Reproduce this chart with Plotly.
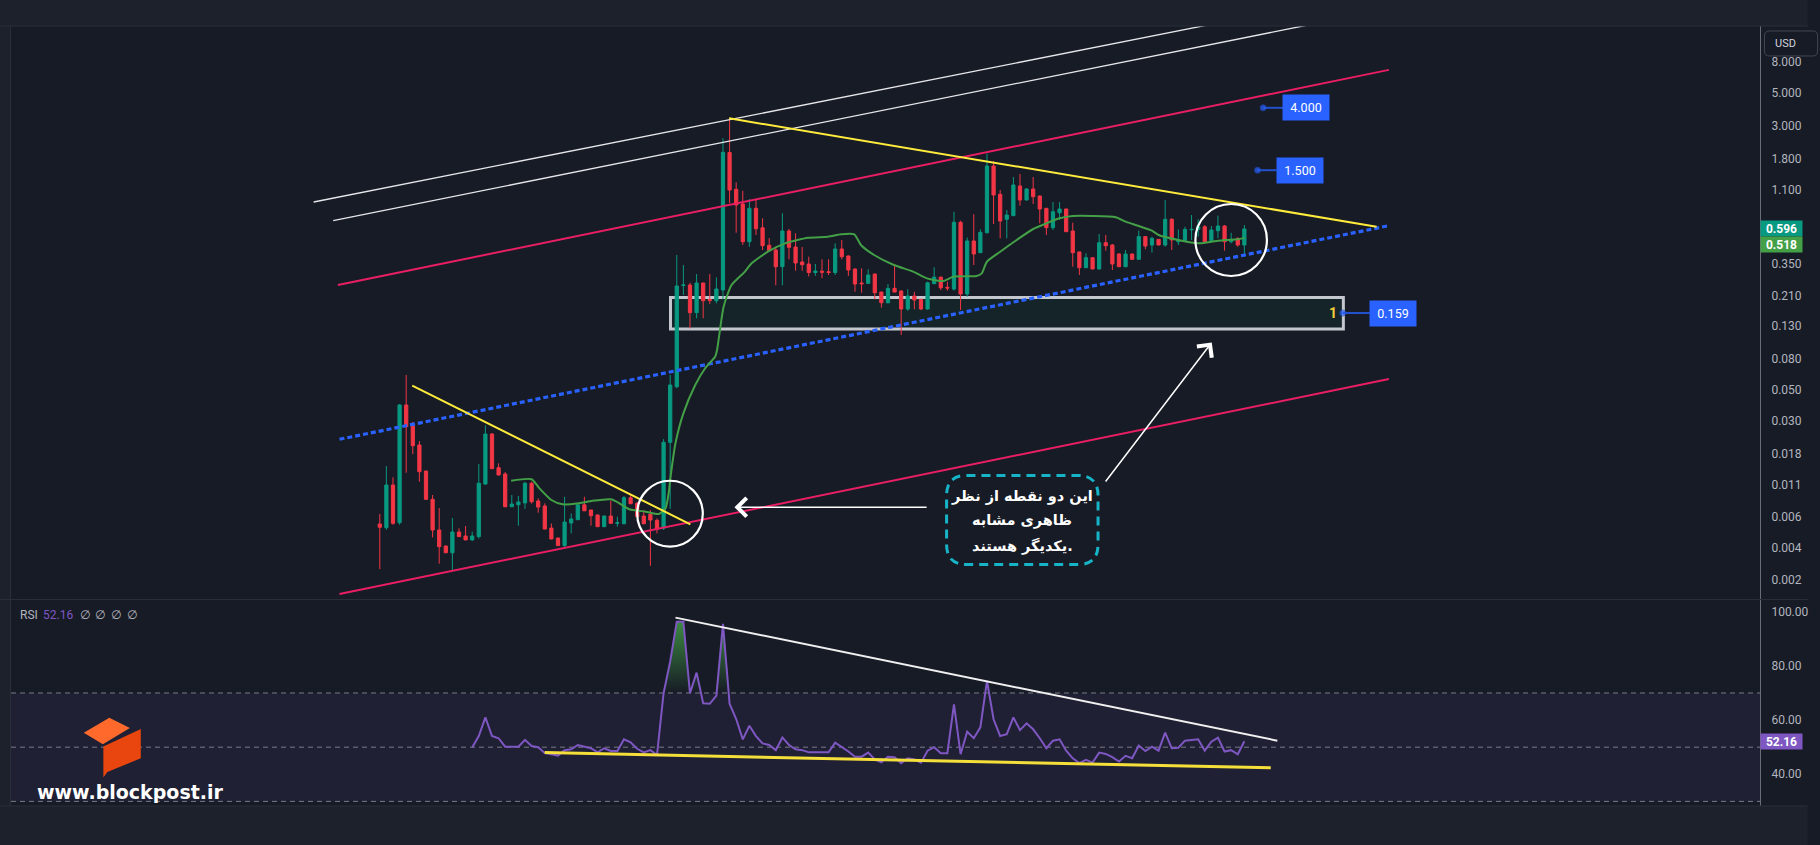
import numpy as np
import plotly.graph_objects as go

# ---------------- data ----------------
candle_open = [.00577, .00544, .01065, .00589, .03744, .0270, .01997, .01327, .0085, .00525,
               .00408, .00367, .00509, .00478, .00449, .00473, .01082, .02374, .01398, .01266,
               .00757, .00781, .00804, .01094, .00828, .00766, .00541, .00463, .00411, .00586,
               .00617, .0078, .00719, .00665, .00553, .00654, .00583, .00579, .00872, .00799,
               .00654, .00672, .00611, .0054, .02083, .04992, .2449, .2468, .1598, .2548,
               .1965, .1929, .2282, 1.98, 1.111, .882, .4875, .8241, .6066, .4607,
               .4279, .3291, .5768, .4485, .3544, .3434, .3005, .3067, .304, .3005,
               .4347, .3894, .3174, .2548, .2534, .2933, .221, .1867, .2342, .2245,
               .1693, .2076, .1971, .1693, .2519, .2795, .238, .2318, .6614, .2143,
               .493, .4103, .561, 1.603, 1.027, .6935, .734, 1.171, .9391, 1.116,
               1.0, .8241, .6078, .769, .8152, .5768, .415, .324, .3791, .3174,
               .4798, .4629, .4018, .3291, .4018, .3698, .5283, .4629, .5058, .4629,
               .6935, .4875, .4952, .5888, .5916, .6169, .4952, .5797, .6241, .4875,
               .5138, .4629]
candle_high = [.00675, .01435, .01202, .0380, .060, .0287, .02126, .01327, .0091, .00742,
               .00412, .00634, .00539, .00559, .00512, .01481, .02724, .0241, .01497, .01306,
               .0091, .00896, .01122, .01122, .00863, .00799, .00582, .00465, .00885, .00682,
               .00783, .00885, .0072, .00668, .00658, .00832, .00647, .00896, .00914, .00818,
               .00719, .00719, .0063, .0219, .060, .3956, .338, .2559, .2933, .2559,
               .2933, .2781, 2.477, 3.391, 1.24, 1.087, .9539, .9539, .7044, .5163,
               .4506, .7632, .5953, .5564, .4485, .385, .3434, .3698, .3698, .4751,
               .5008, .393, .321, .321, .3158, .296, .2217, .2507, .3434, .2282,
               .2307, .2221, .1975, .2599, .3257, .281, .2599, .7804, .6782, .5203,
               .7507, .5916, 1.953, 1.734, 1.099, .8025, 1.348, 1.413, 1.134, 1.348,
               1.005, .826, .9101, .9101, .82, .6573, .416, .4062, .381, .5502,
               .5417, .4702, .4062, .4279, .405, .5804, .53, .5283, .508, .9391,
               .7044, .5916, .6169, .7418, .6935, .6339, .6241, .734, .6339, .561,
               .5221, .6339]
candle_low = [.00284, .00527, .0057, .0057, .01292, .0173, .01122, .00841, .00468, .00309,
              .00366, .0028, .00472, .00448, .00442, .00459, .01065, .0137, .0124, .0075,
              .00752, .00562, .00733, .00796, .00689, .0053, .00454, .0041, .00401, .00498,
              .00615, .00708, .00562, .0055, .0055, .0058, .00553, .00576, .0079, .00645,
              .00577, .00299, .00498, .00525, .00733, .04868, .2109, .125, .1463, .1463,
              .1832, .1851, .1971, .8926, .561, .4629, .4506, .5417, .4279, .4226,
              .2457, .2457, .3698, .309, .309, .282, .285, .2745, .2888, .2888,
              .3698, .285, .2221, .2186, .2507, .1971, .1728, .1851, .2205, .1125,
              .1649, .1685, .1667, .168, .2507, .2282, .2258, .2258, .1667, .2053,
              .338, .408, .556, .6438, .5141, .5141, .73, .8588, .935, .882,
              .6508, .5417, .586, .6857, .57, .3291, .2888, .3235, .3168, .316,
              .4232, .3125, .328, .3262, .368, .3675, .4328, .4103, .462, .4506,
              .4279, .4629, .494, .5008, .5283, .4751, .494, .5138, .4232, .4751,
              .4506, .385]
candle_close = [.00548, .01065, .00583, .03744, .02662, .01975, .01313, .0085, .00525, .00404,
                .00367, .00509, .00473, .00449, .00478, .01094, .02374, .01376, .01246, .00757,
                .0079, .00815, .01094, .00818, .00753, .00533, .00456, .00411, .00595, .00624,
                .0078, .0071, .00657, .00553, .00654, .00583, .00589, .00872, .00793, .00647,
                .00579, .00614, .00533, .02083, .05127, .243, .2468, .1598, .2548, .1929,
                .1935, .2318, 1.988, 1.099, .8681, .4875, .8241, .598, .458, .4232,
                .3291, .5768, .4464, .349, .3396, .3005, .3077, .302, .3005, .4347,
                .385, .3125, .2507, .2519, .2888, .2186, .1867, .2342, .221, .1693,
                .2076, .195, .1693, .2559, .2795, .2364, .2353, .6614, .2143, .493,
                .4018, .5646, 1.603, 1.016, .675, .7418, 1.189, .9391, 1.116, .9893,
                .8152, .6078, .781, .8152, .5706, .4103, .324, .3791, .3174, .4798,
                .458, .3434, .3291, .4018, .3698, .5283, .4557, .5138, .4629, .6935,
                .5008, .5008, .5916, .5916, .6169, .4875, .586, .6241, .4875, .5008,
                .4629, .596]
candle_idx = list(range(len(candle_open)))

# moving average (green) read as points: bar position, value
ma_idx = [19.9, 23, 24.2, 26, 27.7, 30.2, 32.2, 35, 36.3, 37.8, 40.3, 42.3, 43.3, 43.8, 44,
          44.8, 46, 47.8, 49.3, 50.8, 51.1, 52.1, 53.3, 55.3, 56.3, 58.8, 61.4, 64.9, 67.9,
          69.9, 71.9, 72.9, 74.9, 77.9, 80.9, 82.9, 85.4, 86.9, 90.4, 91.2, 92, 94, 96.5, 99,
          101, 103, 105, 108, 111.5, 113, 115, 117, 118, 121, 124, 126, 128, 130, 131]
ma_val = [.01139, .01166, .0101, .00841, .00786, .00799, .0083, .0085, .00799, .00727, .0070,
          .00675, .00738, .00958, .01152, .02052, .03285, .05127, .0667, .07985, .08888, .1755,
          .2468, .3036, .3461, .4166, .4753, .519, .527, .5476, .5476, .4629, .3956, .338,
          .3036, .274, .263, .2811, .2843, .2966, .3568, .4166, .5008, .5953, .651, .7044,
          .7303, .7303, .716, .668, .624, .5797, .5417, .5008, .4751, .4875, .5008, .506, .518]

# RSI
rsi_idx = list(range(14, 132))
rsi_val = [49.9, 54.1, 61.0, 54.1, 53.3, 50.2, 50.2, 50.2, 52.7, 50.4,
           50.0, 47.8, 47.4, 46.9, 48.9, 49.2, 50.8, 50.2, 49.6, 48.1,
           49.6, 48.6, 48.6, 52.9, 51.8, 49.4, 48.1, 48.9, 47.1, 69.9,
           81.6, 96.3, 96.3, 69.9, 77.5, 66.2, 66.0, 69.0, 95.5, 66.0,
           60.4, 52.9, 57.9, 54.1, 51.4, 50.8, 48.9, 53.6, 50.8, 49.2,
           48.9, 48.1, 48.1, 48.1, 48.1, 51.7, 50.2, 48.4, 46.5, 46.5,
           48.0, 45.5, 44.4, 46.5, 46.3, 44.1, 45.9, 45.5, 44.3, 48.7,
           50.0, 47.8, 47.8, 65.8, 47.4, 55.7, 53.3, 57.3, 74.4, 60.3,
           54.1, 54.8, 61.0, 56.3, 58.8, 56.6, 53.3, 49.6, 52.4, 52.9,
           48.7, 45.9, 44.1, 45.3, 44.3, 48.0, 47.5, 46.3, 44.7, 46.8,
           45.9, 50.6, 48.6, 50.2, 48.7, 55.4, 49.6, 49.8, 52.4, 52.7,
           52.9, 48.7, 52.0, 53.5, 48.4, 48.9, 47.4, 52.16]
rsi_last = 52.16

# axis ticks
price_tick_vals = [8.28, 5.06, 3.03, 1.79, 1.10, 0.346, 0.208, 0.130, 0.0777, 0.0474,
                   0.0291, 0.0174, 0.01065, 0.00649, 0.00396, 0.00239]
price_tick_text = ['8.000', '5.000', '3.000', '1.800', '1.100', '0.350', '0.210', '0.130',
                   '0.080', '0.050', '0.030', '0.018', '0.011', '0.006', '0.004', '0.002']
rsi_tick_vals = [100, 80, 60, 40]
rsi_tick_text = ['100.00', '80.00', '60.00', '40.00']
last_price = 0.596
last_ma = 0.518

# drawings (bar position, price)
white_line1_x = [-10.02, 142.6]
white_line1_y = [0.910, 20.9]
white_line2_x = [-7.06, 142.6]
white_line2_y = [0.680, 15.3]
red_upper_x = [-6.35, 152.9]
red_upper_y = [0.2468, 7.26]
red_lower_x = [-6.11, 152.9]
red_lower_y = [0.00192, 0.0563]
yellow1_x = [4.92, 47.06]
yellow1_y = [0.0507, 0.00574]
yellow2_x = [52.93, 151.04]
yellow2_y = [3.391, 0.617]
blue_x = [-6.11, 152.65]
blue_y = [0.02184, 0.6243]
zone_x = [44.05, 146.0]
zone_y = [0.1236, 0.2028]
circle1_x = [39.0, 48.94]
circle1_y = [0.00404, 0.01139]
circle2_x = [123.58, 134.42]
circle2_y = [0.2843, 0.882]
target_vals = [4.0, 1.5, 0.159]
target_text = ['4.000', '1.500', '0.159']
target_dot_x = [133.85, 133.0, 145.9]
target_box_left = [136.85, 135.9, 150.0]
target_box_mid = [140.36, 139.46, 153.45]
zone_label_x = 144.5
arrow1_head = (53.74, 0.00751)
arrow1_tail = (83.08, 0.00751)
arrow2_head = (126.06, 0.1002)
arrow2_tail = (109.8, 0.0110)
rsi_white_x = [44.8, 136.0]
rsi_white_y = [97.8, 52.4]
rsi_yellow_x = [24.98, 135.0]
rsi_yellow_y = [48.0, 42.4]
note_lines = ['این دو نقطه از نظر', 'ظاهری مشابه', 'یکدیگر هستند.']

# ---------------- layout geometry ----------------
W, H = 1820, 845
ML, MR, MT, MB = 11, 48, 26, 39
PW, PH = W - ML - MR, H - MT - MB


def px(x):
    return (x - ML) / PW


def py(y):
    return (H - MB - y) / PH


BG = '#171b26'
BAR = '#1d212c'
LINE = '#2a2e39'
UP = '#089981'
DN = '#f23645'
TXT = '#b2b5be'

X_RANGE = [-55.88, 209.13]
Y_RANGE = [-2.7508, 1.1604]
RSI_RANGE = [28.3, 104.3]

fig = go.Figure()

fig.add_trace(go.Candlestick(
    x=candle_idx, open=candle_open, high=candle_high, low=candle_low, close=candle_close,
    increasing=dict(line=dict(color=UP, width=1), fillcolor=UP),
    decreasing=dict(line=dict(color=DN, width=1), fillcolor=DN),
    whiskerwidth=0, hoverinfo='skip', showlegend=False, xaxis='x', yaxis='y'))


def seg(x, y, color, width, dash=None, yaxis='y', opacity=1.0):
    fig.add_trace(go.Scatter(x=x, y=y, mode='lines', yaxis=yaxis, xaxis='x', opacity=opacity,
                             line=dict(color=color, width=width, dash=dash),
                             hoverinfo='skip', showlegend=False))


seg(white_line1_x, white_line1_y, '#e6e7ea', 1.3)
seg(white_line2_x, white_line2_y, '#e6e7ea', 1.3)
seg(red_upper_x, red_upper_y, '#e91e63', 2)
seg(red_lower_x, red_lower_y, '#e91e63', 2)
seg(blue_x, blue_y, '#2962ff', 3.2, dash='5px,3px')

fig.add_trace(go.Scatter(x=ma_idx, y=ma_val, mode='lines',
                         line=dict(color='#43a047', width=2, shape='spline', smoothing=0.6),
                         hoverinfo='skip', showlegend=False))

seg(yellow1_x, yellow1_y, '#ffeb3b', 2)
seg(yellow2_x, yellow2_y, '#ffeb3b', 2)

# target connectors
for i in range(len(target_vals)):
    fig.add_trace(go.Scatter(x=[target_dot_x[i], target_box_left[i]], y=[target_vals[i]] * 2,
                             mode='lines+markers', line=dict(color='#2350cc', width=2),
                             marker=dict(size=[6, 0], color='#2962ff'),
                             hoverinfo='skip', showlegend=False))

# RSI
n = len(rsi_idx)
fig.add_trace(go.Scatter(x=rsi_idx, y=[70] * n, mode='lines', line=dict(width=0), yaxis='y2',
                         hoverinfo='skip', showlegend=False))
fig.add_trace(go.Scatter(x=rsi_idx, y=[max(v, 70) for v in rsi_val], mode='lines', line=dict(width=0),
                         yaxis='y2', fill='tonexty',
                         fillgradient=dict(type='vertical', start=70, stop=100,
                                           colorscale=[[0, 'rgba(67,160,71,0)'], [1, 'rgba(67,160,71,0.95)']]),
                         hoverinfo='skip', showlegend=False))
fig.add_trace(go.Scatter(x=rsi_idx, y=rsi_val, mode='lines', line=dict(color='#7e57c2', width=2),
                         yaxis='y2', hoverinfo='skip', showlegend=False))
seg(rsi_white_x, rsi_white_y, '#f0f0f0', 2, yaxis='y2')
seg(rsi_yellow_x, rsi_yellow_y, '#f5df3a', 3, yaxis='y2')

shapes = []
# chrome
shapes.append(dict(type='rect', xref='paper', yref='paper', x0=px(0), x1=px(W), y0=py(0), y1=py(MT),
                   fillcolor=BAR, line=dict(width=0), layer='below'))
shapes.append(dict(type='rect', xref='paper', yref='paper', x0=px(0), x1=px(W), y0=py(H - MB), y1=py(H),
                   fillcolor=BAR, line=dict(width=0), layer='below'))
shapes.append(dict(type='rect', xref='paper', yref='paper', x0=px(0), x1=px(ML), y0=py(MT), y1=py(H - MB),
                   fillcolor=BAR, line=dict(width=0), layer='below'))
for yy in [MT, 599.5, H - MB]:
    shapes.append(dict(type='line', xref='paper', yref='paper', x0=px(0), x1=px(W), y0=py(yy), y1=py(yy),
                       line=dict(color=LINE, width=1)))
shapes.append(dict(type='line', xref='paper', yref='paper', x0=px(ML - 0.5), x1=px(ML - 0.5), y0=py(MT),
                   y1=py(H - MB), line=dict(color=LINE, width=1)))
# RSI band and levels
shapes.append(dict(type='rect', xref='paper', yref='y2', x0=0, x1=1, y0=30, y1=70,
                   fillcolor='rgba(126,87,194,0.09)', line=dict(width=0), layer='below'))
for lv in [70, 50, 30]:
    shapes.append(dict(type='line', xref='paper', yref='y2', x0=0, x1=1, y0=lv, y1=lv,
                       line=dict(color='#787b86', width=1, dash='5px,4px'), layer='below'))
# zone box
shapes.append(dict(type='rect', xref='x', yref='y', x0=zone_x[0], x1=zone_x[1], y0=zone_y[0], y1=zone_y[1],
                   fillcolor='#142428', line=dict(color='#c4c7ce', width=3), layer='below'))
# circles
for cx, cy in [(circle1_x, circle1_y), (circle2_x, circle2_y)]:
    shapes.append(dict(type='circle', xref='x', yref='y', x0=cx[0], x1=cx[1], y0=cy[0], y1=cy[1],
                       line=dict(color='#ffffff', width=2.2)))


def rounded(x0, y0, x1, y1, r):
    pts = [('M', x0 + r, y0), ('L', x1 - r, y0), ('Q', x1, y0, x1, y0 + r), ('L', x1, y1 - r),
           ('Q', x1, y1, x1 - r, y1), ('L', x0 + r, y1), ('Q', x0, y1, x0, y1 - r), ('L', x0, y0 + r),
           ('Q', x0, y0, x0 + r, y0)]
    s = ''
    for p in pts:
        if p[0] == 'Q':
            s += 'Q%.5f,%.5f %.5f,%.5f ' % (px(p[1]), py(p[2]), px(p[3]), py(p[4]))
        else:
            s += '%s%.5f,%.5f ' % (p[0], px(p[1]), py(p[2]))
    return s + 'Z'


# dashed callout
shapes.append(dict(type='path', xref='paper', yref='paper', path=rounded(953, 475.5, 1105.5, 564.5, 20),
                   line=dict(color='#17b4c7', width=3, dash='9px,6px')))
# USD box
shapes.append(dict(type='path', xref='paper', yref='paper', path=rounded(1776.5, 31, 1830, 56, 5),
                   fillcolor=BG, line=dict(color='#434651', width=1)))
# logo
logo_top = [(84.3, 732.7), (110, 717.7), (130.7, 728), (103.5, 744.3)]
logo_side = [(104, 746.5), (141.7, 729), (141.7, 758.3), (108, 772), (104, 777.5)]
for pts, col in [(logo_top, '#ff6a2c'), (logo_side, '#e8460e')]:
    path = 'M' + ' L'.join('%.5f,%.5f' % (px(a), py(b)) for a, b in pts) + ' Z'
    shapes.append(dict(type='path', xref='paper', yref='paper', path=path, fillcolor=col, line=dict(width=0)))

ann = []


def ptext(x, y, text, color, size, family='Roboto', xanchor='center'):
    ann.append(dict(x=px(x), y=py(y), xref='paper', yref='paper', text=text, showarrow=False,
                    xanchor=xanchor, yanchor='middle', font=dict(color=color, size=size, family=family)))


# target labels
for i in range(len(target_vals)):
    ann.append(dict(x=target_box_mid[i], y=np.log10(target_vals[i]), xref='x', yref='y', text=target_text[i],
                    xanchor='center', yanchor='middle',
                    showarrow=False, bgcolor='#2962ff', font=dict(color='white', size=12.5, family='Roboto'),
                    width=40, height=19, borderpad=3))
# "1" in zone
ann.append(dict(x=zone_label_x, y=np.log10(0.159), xref='x', yref='y', text='<b>1</b>', showarrow=False,
                xanchor='center', yanchor='middle', font=dict(color='#f2d23a', size=14, family='Roboto')))
# arrows
for head, tail in [(arrow1_head, arrow1_tail), (arrow2_head, arrow2_tail)]:
    ann.append(dict(x=head[0], y=np.log10(head[1]), ax=tail[0], ay=np.log10(tail[1]), xref='x', yref='y',
                    axref='x', ayref='y', text='', showarrow=True, arrowhead=4, arrowsize=2.4,
                    arrowwidth=1.5, arrowcolor='#ffffff'))
# note text
for t, yy in zip(note_lines, [496.7, 520.5, 545.5]):
    ptext(1029, yy, '<b>' + t + '</b>', 'white', 14.5, family='DejaVu Sans')
# axis value labels
ann.append(dict(x=1, y=np.log10(last_price), xref='paper', yref='y', xanchor='left', yanchor='middle',
                text='<b>0.596</b>', showarrow=False, bgcolor=UP,
                font=dict(color='white', size=12, family='Roboto'), width=39, height=13, borderpad=1))
ann.append(dict(x=1, y=np.log10(last_ma), xref='paper', yref='y', xanchor='left', yanchor='middle',
                text='<b>0.518</b>', yshift=-7, showarrow=False, bgcolor='#43a047',
                font=dict(color='white', size=12, family='Roboto'), width=39, height=13, borderpad=1))
ann.append(dict(x=1, y=rsi_last, xref='paper', yref='y2', xanchor='left', yanchor='middle',
                text='<b>%.2f</b>' % rsi_last, showarrow=False, bgcolor='#7e57c2',
                font=dict(color='white', size=12, family='Roboto'), width=39, height=13, borderpad=1))
ptext(1798, 43.5, 'USD', '#d1d4dc', 11)
# RSI legend
ptext(18, 614.5, 'RSI', TXT, 12, xanchor='left')
ptext(41.5, 614.5, '%.2f' % rsi_last, '#7e57c2', 12, xanchor='left')
for xx in [78, 94, 110, 126]:
    ptext(xx, 614.5, '∅', TXT, 12, family='DejaVu Sans', xanchor='left')
# watermark text
ptext(131, 792, '<b>www.blockpost.ir</b>', 'white', 19, family='DejaVu Sans')

fig.update_layout(
    width=W, height=H, autosize=False,
    margin=dict(l=ML, r=MR, t=MT, b=MB, pad=0),
    paper_bgcolor=BG, plot_bgcolor=BG,
    showlegend=False, hovermode=False, dragmode=False,
    shapes=shapes, annotations=ann,
    xaxis=dict(range=X_RANGE, visible=False, showgrid=False, zeroline=False, fixedrange=True,
               rangeslider=dict(visible=False)),
    yaxis=dict(type='log', range=Y_RANGE, domain=[1 - 573 / PH, 1], side='right', anchor='x',
               tickvals=price_tick_vals, ticktext=price_tick_text, showgrid=False, zeroline=False,
               ticks='', ticklabelstandoff=8, tickfont=dict(color=TXT, size=12, family='Roboto'),
               showline=True, linecolor='#6a6d78', linewidth=1, fixedrange=True),
    yaxis2=dict(range=RSI_RANGE, domain=[0, 206 / PH], side='right', anchor='x',
                tickvals=rsi_tick_vals, ticktext=rsi_tick_text, showgrid=False, zeroline=False,
                ticks='', ticklabelstandoff=8, tickfont=dict(color=TXT, size=12, family='Roboto'),
                showline=True, linecolor='#6a6d78', linewidth=1, fixedrange=True),
)

fig.write_html('out.html', include_plotlyjs=True, config={'displayModeBar': False, 'staticPlot': True})
